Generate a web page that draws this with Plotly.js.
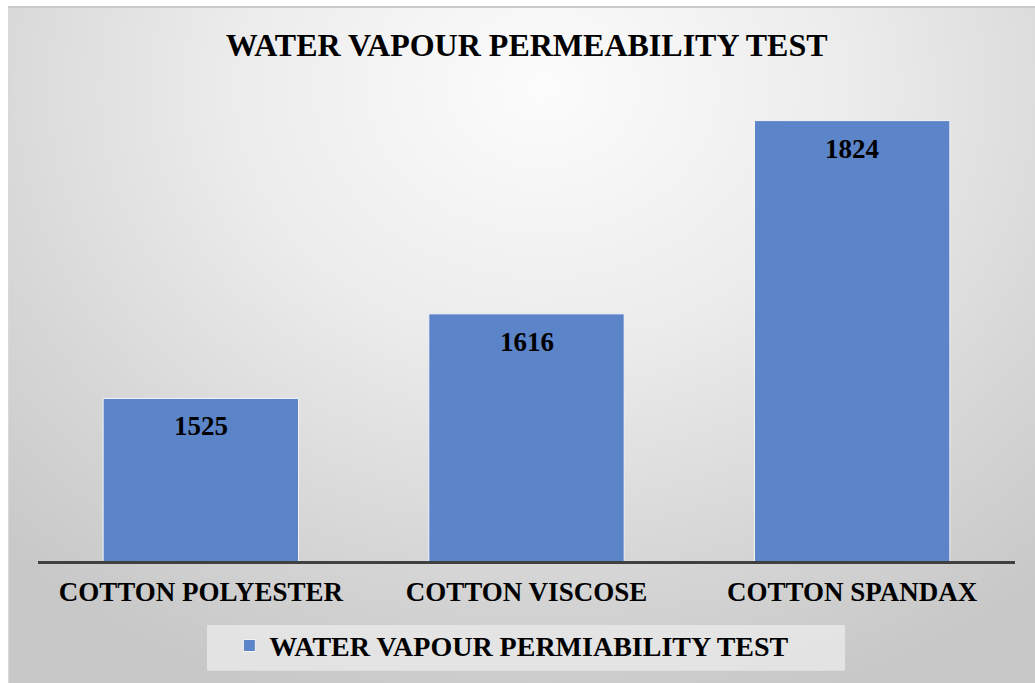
<!DOCTYPE html>
<html>
<head>
<meta charset="utf-8">
<script src="https://cdn.plot.ly/plotly-3.0.1.min.js"></script>
<style>
  html, body { margin: 0; padding: 0; background: #ffffff; }
  #frame {
    position: absolute; left: 8px; top: 6px; width: 1027px; height: 677px;
    background: radial-gradient(ellipse 75% 95% at 52% 12%, #fcfcfc 0%, #ececec 40%, #d6d6d6 75%, #c8c8c8 100%);
    box-shadow: inset 0 2px 0 #cbcbcb, inset 1px 0 0 #d8d8d8;
  }
  #plot { width: 100%; height: 100%; }
</style>
</head>
<body>
<div id="frame"><div id="plot"></div></div>
<script>
  // ─── Data ───────────────────────────────────────────────────────────────────
  var categories = ['COTTON POLYESTER', 'COTTON VISCOSE', 'COTTON SPANDAX'];
  var values     = [1525, 1616, 1824];
  var seriesName = 'WATER VAPOUR PERMIABILITY TEST';

  var SERIF = '"Liberation Serif", "Times New Roman", serif';
  var BLUE  = '#5b84c9';

  var trace = {
    type: 'bar',
    x: categories,
    y: values,
    name: seriesName,
    width: 0.6,
    marker: { color: BLUE, line: { color: '#f4f4f4', width: 1 } },
    hoverinfo: 'none',
    showlegend: true
  };

  // value labels just inside the top of each bar
  var labels = categories.map(function (c, i) {
    return {
      x: c, y: values[i], xref: 'x', yref: 'y',
      text: String(values[i]), showarrow: false,
      yanchor: 'middle', yshift: -28,
      font: { family: SERIF, size: 27, color: '#000', weight: 'bold' }
    };
  });

  var layout = {
    width: 1027, height: 677,
    paper_bgcolor: 'rgba(0,0,0,0)',
    plot_bgcolor:  'rgba(0,0,0,0)',
    margin: { l: 30, r: 20, t: 44, b: 122 },
    title: {
      text: 'WATER VAPOUR PERMEABILITY TEST',
      font: { family: SERIF, size: 32, color: '#000', weight: 'bold' },
      xref: 'container', x: 0.505, yref: 'container', y: 0.943, yanchor: 'middle'
    },
    xaxis: {
      showline: true, linecolor: '#404040', linewidth: 3,
      ticks: '', showgrid: false, ticklabelstandoff: 5,
      tickfont: { family: SERIF, size: 27, color: '#000', weight: 'bold' }
    },
    yaxis: {
      range: [1350, 1900], showticklabels: false, showgrid: false,
      zeroline: false, showline: false, ticks: ''
    },
    showlegend: true,
    legend: {
      orientation: 'h', x: 0.485, xanchor: 'center', y: -0.166, yanchor: 'middle',
      bgcolor: 'rgba(0,0,0,0)',
      font: { family: SERIF, size: 28, color: '#000', weight: 'bold' }
    },
    shapes: [{
      type: 'rect', xref: 'paper', yref: 'paper', layer: 'below',
      x0: 0.173, x1: 0.826, y0: -0.125, y1: -0.215,
      fillcolor: 'rgba(232,232,232,0.85)', line: { width: 0 }
    }],
    annotations: labels
  };

  Plotly.newPlot('plot', [trace], layout, { displayModeBar: false, staticPlot: true });
</script>
</body>
</html>
